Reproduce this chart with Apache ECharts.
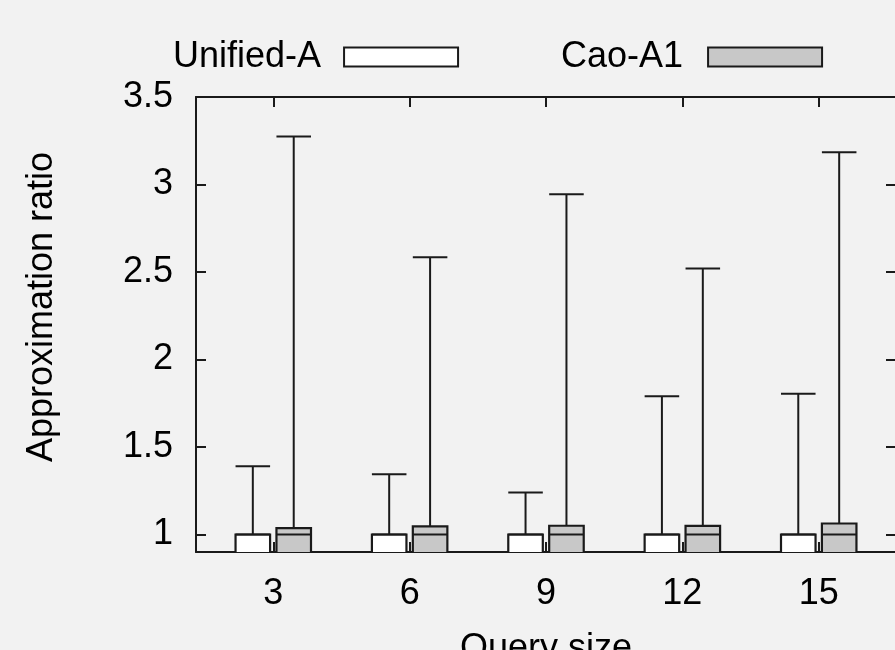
<!DOCTYPE html>
<html lang="en">
<head>
<meta charset="UTF-8">
<title>Approximation ratio</title>
<style>
    * { margin: 0; padding: 0; }
    body { background: #f2f2f2; }
    #chart { width: 895px; height: 650px; }
</style>
</head>
<body>
<div id="chart"></div>
<script src="https://cdn.jsdelivr.net/npm/echarts@6/dist/echarts.min.js"></script>
<script>
// query sizes (x categories) and y tick labels
var querySizes = [3, 6, 9, 12, 15];
var yTicks = [1, 1.5, 2, 2.5, 3, 3.5];

// Unified-A: median, upper box edge, max whisker
var unifiedMedian = [1, 1, 1, 1, 1];
var unifiedUpper = [1.0, 1.0, 1.0, 1.0, 1.0];
var unifiedMax = [1.39, 1.345, 1.24, 1.79, 1.805];

// Cao-A1
var caoMedian = [1, 1, 1, 1, 1];
var caoUpper = [1.036, 1.047, 1.05, 1.049, 1.063];
var caoMax = [3.275, 2.585, 2.945, 2.52, 3.185];

var FONT = "'Liberation Sans', Arial, Helvetica, sans-serif";
var INK = '#1a1a1a';

function rows(maxArr, upperArr, medArr) {
    var out = [];
    for (var i = 0; i < querySizes.length; i++) {
        out.push([querySizes[i], maxArr[i], upperArr[i], medArr[i]]);
    }
    return out;
}

// draws one box + whisker, shifted left/right of the tick
function boxRenderer(offset, fill) {
    return function (params, api) {
        var x = api.value(0) + offset;
        var hw = 0.38;
        var pMax = api.coord([x, api.value(1)]);
        var pTop = api.coord([x, api.value(2)]);
        var pMed = api.coord([x, api.value(3)]);
        var left = api.coord([x - hw, 1])[0];
        var right = api.coord([x + hw, 1])[0];
        var bottom = params.coordSys.y + params.coordSys.height + 3;
        var line = { stroke: INK, lineWidth: 2, fill: null };
        return {
            type: 'group',
            children: [
                { type: 'rect', shape: { x: left, y: pTop[1], width: right - left, height: bottom - pTop[1] },
                  style: { fill: fill, stroke: INK, lineWidth: 2.2 } },
                { type: 'line', shape: { x1: pMax[0], y1: pMax[1], x2: pTop[0], y2: pTop[1] }, style: line },
                { type: 'line', shape: { x1: left, y1: pMax[1], x2: right, y2: pMax[1] }, style: line },
                { type: 'line', shape: { x1: left, y1: pMed[1], x2: right, y2: pMed[1] }, style: line }
            ]
        };
    };
}

function xAxisOf(pos, showLabel) {
    return {
        type: 'value', position: pos, min: 1.3, max: 16.7,
        axisLine: { show: true, lineStyle: { color: INK, width: 2 } },
        axisTick: { show: true, inside: true, length: 10, customValues: querySizes,
                    lineStyle: { color: INK, width: 2 } },
        axisLabel: { show: showLabel, customValues: querySizes, margin: 24,
                     fontSize: 36, color: '#000', fontFamily: FONT },
        splitLine: { show: false }
    };
}

function yAxisOf(pos, showLabel) {
    return {
        type: 'value', position: pos, min: 0.9, max: 3.5,
        axisLine: { show: true, lineStyle: { color: INK, width: 2 } },
        axisTick: { show: true, inside: true, length: 10, customValues: yTicks,
                    lineStyle: { color: INK, width: 2 } },
        axisLabel: { show: showLabel, customValues: yTicks, margin: 23,
                     fontSize: 36, color: '#000', fontFamily: FONT },
        splitLine: { show: false }
    };
}

var chart = echarts.init(document.getElementById('chart'));
chart.setOption({
    backgroundColor: '#f2f2f2',
    animation: false,
    grid: { left: 196, right: -1, top: 97, bottom: 98, outerBoundsMode: 'none' },
    xAxis: [xAxisOf('bottom', true), xAxisOf('top', false)],
    yAxis: [yAxisOf('left', true), yAxisOf('right', false)],
    legend: [
        { data: ['Unified-A'], left: 168, top: 34, align: 'right', icon: 'rect',
          itemWidth: 114, itemHeight: 19,
          textStyle: { fontSize: 36, color: '#000', fontFamily: FONT, padding: [0, 18, 0, 0] } },
        { data: ['Cao-A1'], left: 556, top: 34, align: 'right', icon: 'rect',
          itemWidth: 114, itemHeight: 19,
          textStyle: { fontSize: 36, color: '#000', fontFamily: FONT, padding: [0, 20, 0, 0] } }
    ],
    graphic: [
        { type: 'text', x: 42, y: 307, rotation: Math.PI / 2,
          style: { text: 'Approximation ratio', fontSize: 36, fontFamily: FONT, fill: '#000',
                   align: 'center', verticalAlign: 'middle' } },
        { type: 'text', x: 546, y: 649,
          style: { text: 'Query size', fontSize: 36, fontFamily: FONT, fill: '#000',
                   align: 'center', verticalAlign: 'middle' } }
    ],
    series: [
        { name: 'Unified-A', type: 'custom', clip: true,
          itemStyle: { color: '#ffffff', borderColor: INK, borderWidth: 2 },
          renderItem: boxRenderer(-0.45, '#ffffff'),
          encode: { x: 0, y: [1, 2, 3] },
          data: rows(unifiedMax, unifiedUpper, unifiedMedian) },
        { name: 'Cao-A1', type: 'custom', clip: true,
          itemStyle: { color: '#c8c8c8', borderColor: INK, borderWidth: 2 },
          renderItem: boxRenderer(0.45, '#c8c8c8'),
          encode: { x: 0, y: [1, 2, 3] },
          data: rows(caoMax, caoUpper, caoMedian) }
    ]
});
</script>
</body>
</html>
